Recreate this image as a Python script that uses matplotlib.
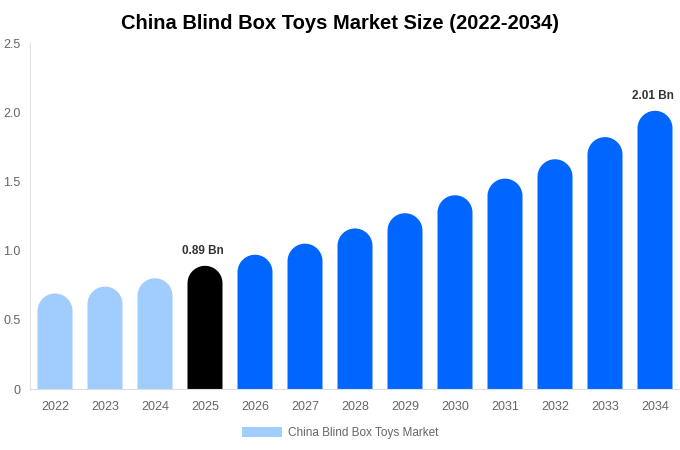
import matplotlib
matplotlib.use("Agg")
import matplotlib.pyplot as plt
import numpy as np
from matplotlib.patches import PathPatch, Patch
from matplotlib.path import Path

plt.rcParams['font.family'] = ['Liberation Sans', 'DejaVu Sans']

years = ['2022', '2023', '2024', '2025', '2026', '2027', '2028',
         '2029', '2030', '2031', '2032', '2033', '2034']
values = [0.69, 0.74, 0.80, 0.89, 0.97, 1.05, 1.16,
          1.27, 1.40, 1.52, 1.66, 1.82, 2.01]
labels = {3: '0.89 Bn', 12: '2.01 Bn'}

light = '#a0cdfd'
dark = '#0066ff'
colors = [light] * 3 + ['#000000'] + [dark] * 9

fig = plt.figure(figsize=(6.8, 4.5), dpi=100)
ax = fig.add_axes([30 / 680, 61 / 450, 650 / 680, 346 / 450])
ax.set_xlim(-0.5, len(years) - 0.5)
ax.set_ylim(0, 2.5)

width = 0.7
# rounded top: half bar width converted to y units
px_per_x = 650 / len(years)
px_per_y = 346 / 2.5
ry = (width * px_per_x / 2) / px_per_y
theta = np.linspace(np.pi, 0, 40)


def rounded_bar(x, h):
    left, right = x - width / 2, x + width / 2
    arc_x = x + width / 2 * np.cos(theta)
    arc_y = (h - ry) + ry * np.sin(theta)
    xs_ = np.concatenate([[left, left], arc_x, [right, right]])
    ys_ = np.concatenate([[0, h - ry], arc_y, [h - ry, 0]])
    return Path(np.column_stack([xs_, ys_]))


for i, (v, c) in enumerate(zip(values, colors)):
    ax.add_patch(PathPatch(rounded_bar(i, v), facecolor=c, edgecolor='none'))

for i, txt in labels.items():
    ax.text(i - 0.05, values[i] + 0.065, txt, ha='center', va='bottom',
            fontsize=8.5, fontweight='bold', color='#333333')

ax.set_xticks(range(len(years)))
ax.set_xticklabels(years)
ax.set_yticks([0, 0.5, 1.0, 1.5, 2.0, 2.5])
ax.set_yticklabels(['0', '0.5', '1.0', '1.5', '2.0', '2.5'])
ax.tick_params(axis='both', length=0, labelsize=9, colors='#666666')
ax.tick_params(axis='x', pad=9)
ax.tick_params(axis='y', pad=7)

for s in ['top', 'right']:
    ax.spines[s].set_visible(False)
ax.spines['left'].set_color('#e0e0e0')
ax.spines['bottom'].set_color('#dddddd')

fig.suptitle('China Blind Box Toys Market Size (2022-2034)', x=0.5, y=0.968,
             fontsize=14.5, fontweight='bold', color='#000000')

handle = Patch(facecolor=light, edgecolor='none', label='China Blind Box Toys Market')
fig.legend(handles=[handle], loc='center', bbox_to_anchor=(0.5, 1 - 433 / 450),
           frameon=False, fontsize=8.5, handlelength=3.4, handleheight=1.0,
           handletextpad=0.5, labelcolor='#666666')

fig.savefig('out.png', dpi=100, facecolor='white')
